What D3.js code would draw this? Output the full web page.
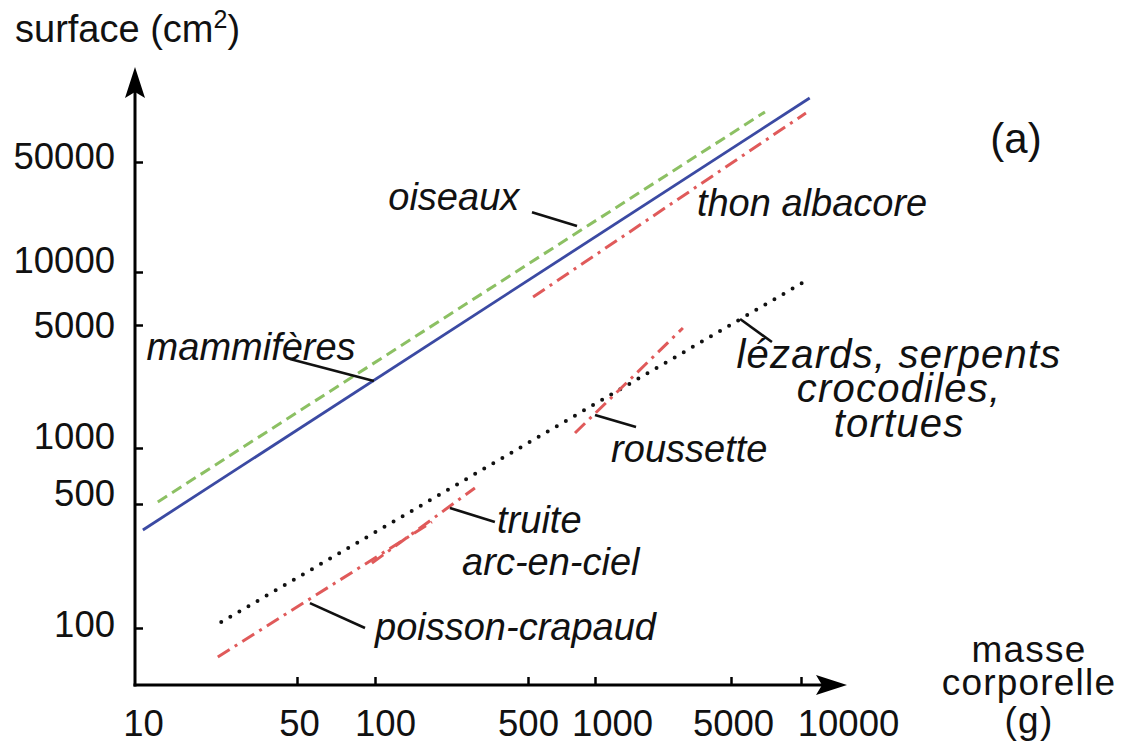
<!DOCTYPE html>
<html><head><meta charset="utf-8">
<script src="https://cdn.jsdelivr.net/npm/d3@7/dist/d3.min.js"></script>
<style>
html,body{margin:0;padding:0;background:#fff;}
svg{display:block;font-family:"Liberation Sans",Arial,Helvetica,sans-serif;}
</style></head>
<body><svg id="c" width="1122" height="744"></svg>
<script>
// ---- data ----
const xTicks = [10, 50, 100, 500, 1000, 5000, 10000];
const yTicks = [100, 500, 1000, 5000, 10000, 50000];

const seriesNames = ["mammifères", "oiseaux", "thon albacore", "lézards", "roussette", "truite", "poisson-crapaud"];
const massStart = [10.3, 12.0, 527, 23.0, 813, 97.3, 22.2];
const massEnd   = [10900, 7000, 10500, 10300, 2830, 286, 182];
const surfStart = [357, 513, 7210, 108, 1217, 232, 68.7];
const surfEnd   = [127600, 104000, 102400, 8780, 4810, 610, 396];

const leaderMass1 = [46.5, 521, 5470, 1000, 220, 56.1];
const leaderSurf1 = [3200, 24000, 5410, 1540, 475, 138];
const leaderMass2 = [99, 830, 7500, 1625, 353, 91.5];
const leaderSurf2 = [2400, 19600, 4000, 1316, 396, 100];

const labelLines = [["mammifères"], ["oiseaux"], ["thon albacore"], ["lézards, serpents", "crocodiles,", "tortues"], ["roussette"], ["truite"], ["arc-en-ciel"], ["poisson-crapaud"]];
const labelMass = [10.7, 115, 3340, 26400, 1210, 361, 250, 100];
const labelSurf = [3160, 24800, 22700, 2850, 841, 343, 199, 85.5];

// ---- layout / styles ----
const labelAnchor = ["start", "start", "start", "middle", "start", "start", "start", "start"];
const labelSize = [38, 38, 38, 40, 38, 38, 38, 38];
const labelSpacing = [0, 0, 0, 1.2, 0, 0, 0, 0];
const xLabelShift = [3, 2, 10, 0, 17, 2, 47];
const yLabelShift = [-3, -10, -11, 1, -11, -5.5];

const style = {
  "mammifères": {stroke: "#3b4aa3", width: 2.8, dash: null, cap: "butt"},
  "oiseaux": {stroke: "#8cc063", width: 3, dash: "11,6", cap: "butt"},
  "thon albacore": {stroke: "#e05a5a", width: 3, dash: "14,6,3,6", cap: "butt"},
  "lézards": {stroke: "#111", width: 4, dash: "0,10.5", cap: "round"},
  "roussette": {stroke: "#e05a5a", width: 3, dash: "14,6,3,6", cap: "butt"},
  "truite": {stroke: "#e05a5a", width: 3, dash: "14,6,3,6", cap: "butt"},
  "poisson-crapaud": {stroke: "#e05a5a", width: 3, dash: "14,6,3,6", cap: "butt"}
};

const svg = d3.select("#c");
const x = d3.scaleLog().domain(xTicks).range([140, 297, 375, 528, 595, 731, 801]);
const y = d3.scaleLog().domain(yTicks).range([628, 504, 448, 325, 272, 162]);
const ox = 135, oy = 685;
const FS = 38, TFS = 36.5;

// axes with d3.axis (ticks inward)
const gx = svg.append("g").attr("transform", `translate(0,${oy})`)
  .call(d3.axisBottom(x).tickValues(xTicks).tickFormat(d3.format("d")).tickSizeInner(-8).tickSizeOuter(0).tickPadding(25));
gx.select(".domain").remove();
gx.selectAll(".tick line").attr("stroke", "#000").attr("stroke-width", 2.5)
  .filter(d => d === 10).remove();
gx.selectAll(".tick text").attr("font-size", TFS).attr("fill", "#111")
  .attr("font-family", "Liberation Sans, Arial, sans-serif")
  .attr("dx", (d, i) => xLabelShift[i]);

const gy = svg.append("g").attr("transform", `translate(${ox},0)`)
  .call(d3.axisLeft(y).tickValues(yTicks).tickFormat(d3.format("d")).tickSizeInner(-8).tickSizeOuter(0).tickPadding(20));
gy.select(".domain").remove();
gy.selectAll(".tick line").attr("stroke", "#000").attr("stroke-width", 2.5);
gy.selectAll(".tick text").attr("font-size", TFS).attr("fill", "#111")
  .attr("font-family", "Liberation Sans, Arial, sans-serif")
  .attr("y", (d, i) => yLabelShift[i]);

// axis lines with arrows
svg.append("line").attr("x1", ox).attr("y1", oy + 1.5).attr("x2", ox).attr("y2", 90).attr("stroke", "#000").attr("stroke-width", 3);
svg.append("line").attr("x1", ox - 1.5).attr("y1", oy).attr("x2", 830).attr("y2", oy).attr("stroke", "#000").attr("stroke-width", 3);
svg.append("path").attr("d", `M${ox},67 L${ox + 10},98 L${ox},92 L${ox - 10},98 Z`).attr("fill", "#000");
svg.append("path").attr("d", `M847,${oy} L816,${oy - 10} L822,${oy} L816,${oy + 10} Z`).attr("fill", "#000");

// series lines
seriesNames.forEach((n, i) => {
  const s = style[n];
  svg.append("line")
    .attr("x1", x(massStart[i])).attr("y1", y(surfStart[i]))
    .attr("x2", x(massEnd[i])).attr("y2", y(surfEnd[i]))
    .attr("stroke", s.stroke).attr("stroke-width", s.width)
    .attr("stroke-dasharray", s.dash).attr("stroke-linecap", s.cap);
});

// leader lines
leaderMass1.forEach((m, i) => {
  svg.append("line")
    .attr("x1", x(m)).attr("y1", y(leaderSurf1[i]))
    .attr("x2", x(leaderMass2[i])).attr("y2", y(leaderSurf2[i]))
    .attr("stroke", "#111").attr("stroke-width", 2.6);
});

// labels
labelLines.forEach((lines, i) => {
  const t = svg.append("text")
    .attr("x", x(labelMass[i])).attr("y", y(labelSurf[i]))
    .attr("text-anchor", labelAnchor[i])
    .attr("letter-spacing", labelSpacing[i])
    .attr("font-size", labelSize[i]).attr("font-style", "italic").attr("fill", "#111");
  lines.forEach((l, j) => {
    t.append("tspan").attr("x", x(labelMass[i])).attr("dy", j === 0 ? 0 : 34.5).text(l);
  });
});

// titles
const yt = svg.append("text").attr("x", 15).attr("y", 42).attr("font-size", FS).attr("fill", "#111");
yt.append("tspan").text("surface (cm");
yt.append("tspan").attr("font-size", 25).attr("dy", -14).text("2");
yt.append("tspan").attr("dy", 14).text(")");

const xt = svg.append("text").attr("x", 1029).attr("y", 662).attr("font-size", 37).attr("fill", "#111")
  .attr("text-anchor", "middle").attr("letter-spacing", 1.2);
const xtDy = [0, 32.5, 38];
["masse", "corporelle", "(g)"].forEach((l, j) => xt.append("tspan").attr("x", 1029).attr("dy", xtDy[j]).text(l));

svg.append("text").attr("x", 1016).attr("y", 153).attr("font-size", 42).attr("fill", "#111").attr("text-anchor", "middle").text("(a)");
</script>
</body></html>
